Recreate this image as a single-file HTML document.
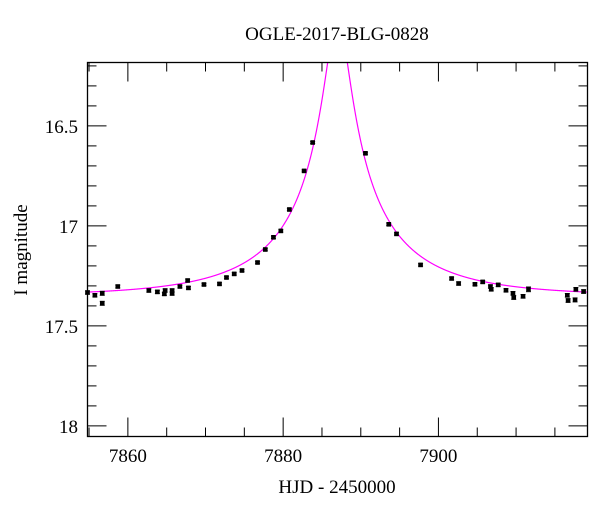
<!DOCTYPE html>
<html><head><meta charset="utf-8"><style>
html,body{margin:0;padding:0;background:#fff;}
svg{display:block;font-family:"Liberation Serif",serif;}
</style></head><body>
<svg id="chart" width="600" height="512" viewBox="0 0 600 512" xmlns="http://www.w3.org/2000/svg">
<text x="337" y="40" font-size="19" text-anchor="middle">OGLE-2017-BLG-0828</text>
<text x="337" y="493" font-size="19" text-anchor="middle">HJD - 2450000</text>
<text transform="translate(27,250) rotate(-90)" font-size="19" text-anchor="middle">I magnitude</text>
<g id="ticks"></g>
<g id="curve"></g>
<g id="pts"></g>
<rect x="87.5" y="62.5" width="500" height="374" fill="none" stroke="#000" stroke-width="1.3"/>
</svg>
<script>
const hjd = [7854.8,7855.75,7856.7,7856.7,7858.7,7862.7,7863.8,7864.8,7864.7,7865.7,7865.7,7866.7,7867.7,7867.8,7869.8,7871.8,7872.7,7873.7,7874.7,7876.7,7877.7,7878.75,7879.7,7880.8,7882.7,7883.8,7890.6,7893.6,7894.6,7897.7,7901.7,7902.6,7904.7,7905.7,7906.7,7906.8,7907.7,7908.7,7909.6,7909.7,7910.9,7911.6,7916.6,7916.7,7917.6,7917.7,7918.7];
const mag = [17.333,17.347,17.337,17.387,17.303,17.323,17.33,17.323,17.34,17.323,17.338,17.303,17.273,17.31,17.293,17.29,17.258,17.24,17.223,17.183,17.118,17.057,17.025,16.918,16.725,16.583,16.637,16.992,17.04,17.195,17.263,17.288,17.292,17.28,17.303,17.317,17.295,17.322,17.337,17.358,17.352,17.317,17.347,17.373,17.37,17.317,17.328];
const err = [0.008,0.008,0.01,0.01,0.007,0.008,0.008,0.008,0.008,0.008,0.008,0.007,0.007,0.007,0.006,0.006,0.006,0.006,0.006,0.006,0.006,0.006,0.006,0.006,0.005,0.005,0.005,0.006,0.006,0.006,0.007,0.008,0.007,0.007,0.008,0.008,0.008,0.008,0.009,0.009,0.009,0.012,0.009,0.009,0.01,0.009,0.009];
const xTicks = [7860,7880,7900];
const yTicks = [16.5,17,17.5,18];
const model = {t0:7887.0, tE:17, u0:0.088, fs:0.25, base:17.35};
const NS="http://www.w3.org/2000/svg";
const X0=87.5,X1=587.5,Y0=62.5,Y1=436.5;
const xmin=7854.8,xmax=7919.2,ymin=16.183,ymax=18.053;
function xs(t){return X0+(t-xmin)/(xmax-xmin)*(X1-X0);}
function ys(m){return Y0+(m-ymin)/(ymax-ymin)*(Y1-Y0);}
function mk(tag,attrs,parent){const e=document.createElementNS(NS,tag);for(const k in attrs)e.setAttribute(k,attrs[k]);parent.appendChild(e);return e;}
const tg=document.getElementById('ticks');
for(let t=7855;t<=7919;t+=5){
  const major=t%20===0;const L=major?19:9;const x=xs(t);
  let l=mk('line',{x1:x,x2:x,y1:Y1,y2:Y1-L,stroke:'#000','stroke-width':1},tg);
  
  
  l=mk('line',{x1:x,x2:x,y1:Y0,y2:Y0+L,stroke:'#000','stroke-width':1},tg);
  
  
}
xTicks.forEach(t=>{
  const tx=mk('text',{x:xs(t),y:462,'font-size':19,'text-anchor':'middle'},tg);
  tx.textContent=t;
  
  
});
for(let i=2;i<=20;i++){
  const m=16.0+i*0.1; if(m<ymin||m>ymax)continue;
  const major=Math.abs(m*2-Math.round(m*2))<1e-6;const L=major?19:9;const y=ys(m);
  let l=mk('line',{x1:X0,x2:X0+L,y1:y,y2:y,stroke:'#000','stroke-width':1},tg);
  
  
  l=mk('line',{x1:X1,x2:X1-L,y1:y,y2:y,stroke:'#000','stroke-width':1},tg);
  
  
}
yTicks.forEach(m=>{
  const tx=mk('text',{x:78,y:ys(m)+7,'font-size':19,'text-anchor':'end'},tg);
  tx.textContent=String(m);
  
  
});
function A(u){return (u*u+2)/(u*Math.sqrt(u*u+4));}
let d='';
for(let t=xmin;t<=xmax;t+=0.02){
  const tau=(t-model.t0)/model.tE;const u=Math.sqrt(model.u0*model.u0+tau*tau);
  const F=model.fs*A(u)+1-model.fs;const m=model.base-2.5*Math.log10(F);
  d+=(d?'L':'M')+xs(t).toFixed(2)+','+ys(m).toFixed(2);
}
const cg=document.getElementById('curve');
const cl=document.createElementNS(NS,'clipPath');cl.setAttribute('id','clip');
mk('rect',{x:X0,y:Y0,width:X1-X0,height:Y1-Y0},cl);document.querySelector('svg').appendChild(cl);
const p=mk('path',{d:d,fill:'none',stroke:'#ff00ff','stroke-width':1.2,'clip-path':'url(#clip)'},cg);


const pg=document.getElementById('pts');
hjd.forEach((t,i)=>{
  const x=xs(t),y=ys(mag[i]),e=err[i]*(Y1-Y0)/(ymax-ymin);
  const g=mk('g',{},pg);
  
  
  mk('line',{x1:x,x2:x,y1:y-e,y2:y+e,stroke:'#333','stroke-width':1},g);
  mk('line',{x1:x-2.5,x2:x+2.5,y1:y-e,y2:y-e,stroke:'#333','stroke-width':1},g);
  mk('line',{x1:x-2.5,x2:x+2.5,y1:y+e,y2:y+e,stroke:'#333','stroke-width':1},g);
  mk('rect',{x:x-2.3,y:y-2.3,width:4.6,height:4.6,fill:'#000'},g);
});
</script>
</body></html>
